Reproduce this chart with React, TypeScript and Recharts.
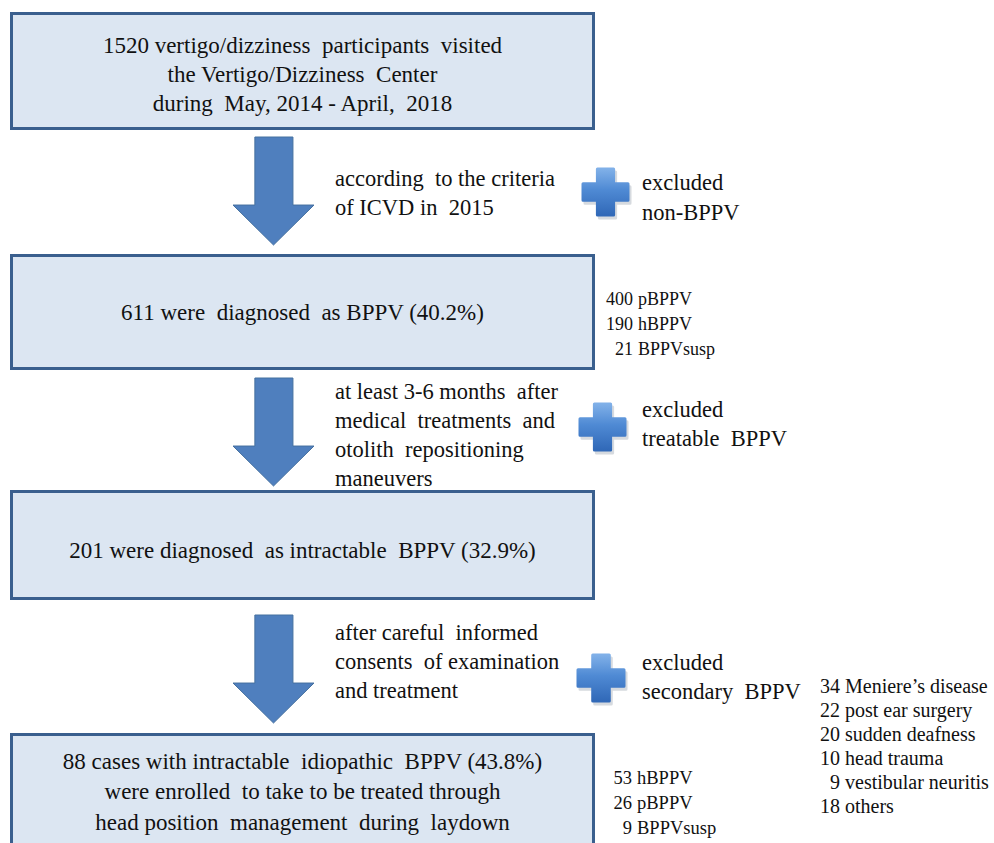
import React from "react"
import { ComposedChart, XAxis, YAxis, ReferenceArea, ReferenceDot } from "recharts"

// flow steps (box texts)
const steps = [
  ["1520 vertigo/dizziness  participants  visited", "the Vertigo/Dizziness  Center", "during  May, 2014 - April,  2018"],
  ["611 were  diagnosed  as BPPV (40.2%)"],
  ["201 were diagnosed  as intractable  BPPV (32.9%)"],
  ["88 cases with intractable  idiopathic  BPPV (43.8%)", "were enrolled  to take to be treated through", "head position  management  during  laydown"],
]

// criteria next to each arrow
const criteria = [
  ["according  to the criteria", "of ICVD in  2015"],
  ["at least 3-6 months  after", "medical  treatments  and", "otolith  repositioning", "maneuvers"],
  ["after careful  informed", "consents  of examination", "and treatment"],
]

const excluded = [
  ["excluded", "non-BPPV"],
  ["excluded", "treatable  BPPV"],
  ["excluded", "secondary  BPPV"],
]

const bppvCounts = [400, 190, 21]
const bppvTypes = ["pBPPV", "hBPPV", "BPPVsusp"]

const enrolledCounts = [53, 26, 9]
const enrolledTypes = ["hBPPV", "pBPPV", "BPPVsusp"]

const secondaryCounts = [34, 22, 20, 10, 9, 18]
const secondaryCauses = ["Meniere\u2019s disease", "post ear surgery", "sudden deafness", "head trauma", "vestibular neuritis", "others"]

// layout (pixel units of the hidden axes)
const W = 994
const H = 843
const boxX = [10, 595]
const boxY = [[12, 130], [254, 370], [490, 600], [733, 848]]
const boxTextY = [[45, 74, 103], [312], [550], [761, 791, 822]]
const arrowX = [233, 314]
const arrowY = [[137, 245], [378, 486], [615, 723]]
const critX = 335
const critY = [[178, 207], [391, 420, 449, 478], [632, 661, 690]]
const plusBox = [[583, 628, 169, 215], [580, 625, 404, 450], [578, 624, 655, 701]]
const exclX = 642
const exclY = [[182, 212], [409, 438], [662, 691]]

const serif = "Liberation Serif"
const boxFill = "#dce6f2"
const boxStroke = "#3a5f8e"
const arrowFill = "#4f7fbe"

const Box = (p: any) => (
  <rect x={p.x + 1.5} y={p.y + 1.5} width={p.width - 3} height={p.height - 3} fill={boxFill} stroke={boxStroke} strokeWidth={3} />
)

const Arrow = (p: any) => {
  const { x, y, width: w, height: h } = p
  const sx1 = x + w * 0.27
  const sx2 = x + w * 0.74
  const hy = y + h * 0.63
  const pts = [
    [sx1, y], [sx2, y], [sx2, hy], [x + w, hy], [x + w / 2, y + h], [x, hy], [sx1, hy],
  ].map((q) => q.join(",")).join(" ")
  return <polygon points={pts} fill={arrowFill} stroke="#45709f" strokeWidth={1} />
}

const Plus = (p: any) => {
  const { x, y, width: w, height: h } = p
  const a = w * 0.32
  const b = w * 0.68
  const c = h * 0.32
  const d = h * 0.68
  const path = `M${x + a},${y} H${x + b} V${y + c} H${x + w} V${y + d} H${x + b} V${y + h} H${x + a} V${y + d} H${x} V${y + c} H${x + a} Z`
  const id = `pg${Math.round(y)}`
  return (
    <g>
      <defs>
        <linearGradient id={id} x1="0" y1="0" x2="0" y2="1">
          <stop offset="0%" stopColor="#80b0e8" />
          <stop offset="45%" stopColor="#4f8ad4" />
          <stop offset="100%" stopColor="#3169b8" />
        </linearGradient>
      </defs>
      <path d={path} fill="#9aa4b0" opacity={0.4} transform="translate(2,3)" strokeLinejoin="round" stroke="#9aa4b0" strokeWidth={3} />
      <path d={path} fill={`url(#${id})`} stroke={`url(#${id})`} strokeWidth={3} strokeLinejoin="round" />
    </g>
  )
}

const txt = (s: string, size: number, anchor: string = "start") => (p: any) => (
  <text x={p.cx} y={p.cy} textAnchor={anchor} dominantBaseline="central" fill="#111"
    style={{ whiteSpace: "pre", fontFamily: serif, fontSize: size }}>
    {s}
  </text>
)

export default function App() {
  const mid = (boxX[0] + boxX[1]) / 2
  return (
    <div style={{ position: "absolute", left: 0, top: 0, background: "#fff" }}>
      <ComposedChart width={W} height={H} data={[]} margin={{ top: 0, right: 0, bottom: 0, left: 0 }}>
        <XAxis type="number" dataKey="x" domain={[0, W]} hide allowDataOverflow />
        <YAxis type="number" dataKey="y" domain={[0, H]} reversed hide allowDataOverflow />

        {steps.map((_, i) => (
          <ReferenceArea key={`b${i}`} x1={boxX[0]} x2={boxX[1]} y1={boxY[i][0]} y2={boxY[i][1]} ifOverflow="visible" shape={Box} />
        ))}
        {steps.map((lines, i) =>
          lines.map((s, j) => (
            <ReferenceDot key={`bt${i}-${j}`} x={mid} y={boxTextY[i][j]} ifOverflow="visible" shape={txt(s, 23, "middle")} />
          ))
        )}

        {criteria.map((lines, i) => (
          <ReferenceArea key={`a${i}`} x1={arrowX[0]} x2={arrowX[1]} y1={arrowY[i][0]} y2={arrowY[i][1]} shape={Arrow} />
        ))}
        {criteria.map((lines, i) =>
          lines.map((s, j) => (
            <ReferenceDot key={`c${i}-${j}`} x={critX} y={critY[i][j]} shape={txt(s, 22.5)} />
          ))
        )}

        {excluded.map((lines, i) => (
          <ReferenceArea key={`p${i}`} x1={plusBox[i][0]} x2={plusBox[i][1]} y1={plusBox[i][2]} y2={plusBox[i][3]} shape={Plus} />
        ))}
        {excluded.map((lines, i) =>
          lines.map((s, j) => (
            <ReferenceDot key={`e${i}-${j}`} x={exclX} y={exclY[i][j]} shape={txt(s, 22.5)} />
          ))
        )}

        {bppvCounts.map((n, i) => (
          <ReferenceDot key={`bc${i}`} x={633} y={299 + i * 25} shape={txt(String(n), 18, "end")} />
        ))}
        {bppvTypes.map((s, i) => (
          <ReferenceDot key={`bl${i}`} x={638} y={299 + i * 25} shape={txt(s, 18)} />
        ))}

        {enrolledCounts.map((n, i) => (
          <ReferenceDot key={`ec${i}`} x={632} y={778 + i * 25} shape={txt(String(n), 18.5, "end")} />
        ))}
        {enrolledTypes.map((s, i) => (
          <ReferenceDot key={`el${i}`} x={637} y={778 + i * 25} shape={txt(s, 18.5)} />
        ))}

        {secondaryCounts.map((n, i) => (
          <ReferenceDot key={`sc${i}`} x={840} y={686 + i * 24} shape={txt(String(n), 20, "end")} />
        ))}
        {secondaryCauses.map((s, i) => (
          <ReferenceDot key={`sl${i}`} x={845} y={686 + i * 24} shape={txt(s, 20)} />
        ))}
      </ComposedChart>
    </div>
  )
}
